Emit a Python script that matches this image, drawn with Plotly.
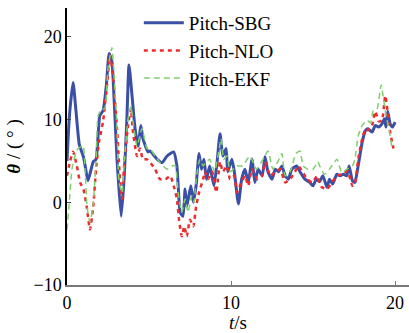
import plotly.graph_objects as go

# Pitch-SBG
t_sbg = [0, 0.15, 0.37, 0.55, 0.75, 1.0, 1.1, 1.28, 1.6, 1.77, 2.0, 2.2, 2.4, 2.57, 2.74, 2.87, 3.05, 3.3, 3.48, 3.65, 3.78, 3.96, 4.15, 4.33, 4.5, 4.63, 4.94,
         5.06, 5.5, 5.8, 6.1, 6.5, 6.7, 6.9, 7.07, 7.2, 7.3, 7.55, 7.7, 7.87, 8.05, 8.2, 8.35, 8.5, 8.7, 8.96, 9.15, 9.33, 9.5, 9.7, 9.8, 10.05, 10.2, 10.45,
         10.65, 10.85, 11.05, 11.28, 11.45, 11.65, 11.9, 12.07, 12.25, 12.5, 12.7, 12.9, 13.1, 13.3, 13.5, 13.7, 14.0, 14.2, 14.5, 14.8, 15.0, 15.2, 15.4,
         15.6, 15.85, 16.0, 16.2, 16.45, 16.65, 16.85, 17.05, 17.2, 17.4, 17.55, 17.75, 18.0, 18.2, 18.35, 18.6, 18.8, 19.0, 19.2, 19.35, 19.45, 19.55, 19.7, 19.85, 20.0]
v_sbg = [5.0, 10.5, 14.5, 11.0, 7.0, 5.5, 4.5, 2.6, 4.9, 5.2, 10.5, 11.1, 14.2, 18.0, 17.0, 12.5, 5.2, -1.7, 2.8, 10.1, 16.6, 13.0, 8.9, 6.8, 9.3, 7.7, 6.1,
         6.2, 5.2, 4.8, 5.6, 6.1, 4.4, -1.2, -1.7, 1.6, -0.5, 2.0, 0.0, 2.0, 5.9, 4.0, 5.2, 2.8, 4.4, 2.0, 4.9, 8.3, 5.6, 6.5, 3.7, 5.2, 3.7, -0.2,
         2.8, 4.0, 2.4, 5.2, 2.4, 4.0, 3.2, 5.5, 3.7, 2.8, 4.0, 3.7, 4.4, 3.2, 2.8, 4.0, 4.4, 3.7, 2.8, 2.4, 2.0, 2.8, 2.5,
         3.2, 1.8, 2.8, 2.2, 3.4, 3.2, 3.4, 3.2, 4.4, 2.6, 2.4, 4.4, 7.3, 8.7, 8.9, 8.5, 9.3, 9.1, 9.5, 10.1, 9.1, 11.0, 9.5, 9.1, 9.7]

# Pitch-NLO
t_nlo = [0, 0.18, 0.37, 0.6, 0.8, 1.0, 1.2, 1.4, 1.6, 1.77, 1.95, 2.2, 2.44, 2.62, 2.8, 3.05, 3.23, 3.35, 3.5, 3.72, 3.9, 4.0, 4.27, 4.45, 4.63, 4.88,
         5.37, 5.67, 6.0, 6.3, 6.5, 6.7, 6.83, 7.0, 7.15, 7.3, 7.5, 7.7, 7.87, 8.05, 8.3, 8.4, 8.6, 8.85, 9.1, 9.33, 9.5, 9.75, 9.94, 10.2, 10.35,
         10.55, 10.85, 11.05, 11.28, 11.6, 11.9, 12.07, 12.4, 12.7, 13.0, 13.3, 13.6, 13.9, 14.1, 14.35, 14.65, 14.95, 15.25, 15.5, 15.85, 16.15,
         16.45, 16.8, 17.1, 17.4, 17.55, 17.75, 18.0, 18.2, 18.35, 18.6, 18.8, 19.0, 19.2, 19.4, 19.5, 19.7, 19.9]
v_nlo = [3.2, 4.9, 6.1, 4.4, 2.4, 1.6, -0.5, -3.3, -0.5, 4.0, 7.3, 9.8, 14.2, 17.8, 15.4, 8.9, 2.8, 0.4, 4.9, 9.3, 11.3, 8.9, 5.6, 6.5, 5.2, 5.2,
         4.0, 2.8, 2.8, 3.2, 2.0, 0.4, -2.1, -4.1, -2.9, -4.1, -2.1, -2.9, -0.5, 1.2, 2.8, 3.7, 2.8, 3.7, 1.2, 4.9, 3.7, 4.4, 2.8, 3.2, 1.2,
         2.0, 3.2, 2.0, 4.0, 2.8, 3.2, 4.9, 3.2, 3.7, 4.0, 2.4, 2.8, 3.7, 4.4, 3.7, 2.8, 2.4, 3.2, 1.9, 1.6, 2.4,
         3.2, 3.4, 3.8, 2.0, 2.2, 5.2, 7.7, 8.9, 8.7, 9.3, 11.0, 9.8, 9.9, 12.9, 11.7, 8.5, 6.5]

# Pitch-EKF
t_ekf = [0, 0.12, 0.3, 0.43, 0.67, 0.98, 1.1, 1.22, 1.4, 1.58, 1.77, 1.9, 2.13, 2.3, 2.5, 2.74, 2.87, 3.05, 3.17, 3.35, 3.5, 3.72, 3.9, 4.08, 4.27, 4.57, 4.88,
         5.06, 5.37, 5.67, 6.1, 6.4, 6.6, 6.77, 7.0, 7.2, 7.38, 7.6, 7.74, 7.9, 8.1, 8.3, 8.5, 8.7, 9.0, 9.2, 9.4, 9.55, 9.75, 9.95, 10.35,
         10.7, 11.15, 11.55, 11.95, 12.25, 12.55, 12.85, 13.1, 13.3, 13.6, 13.96, 14.2, 14.4, 14.7, 15.0, 15.3, 15.4, 15.7, 16.0, 16.46, 16.75, 17.05,
         17.4, 17.55, 17.75, 18.0, 18.3, 18.5, 18.66, 18.9, 19.15, 19.27, 19.45, 19.63, 19.8, 19.9]
v_ekf = [-3.3, -0.5, 4.0, 5.2, 6.5, 6.8, 4.0, -0.5, -2.4, -0.5, 4.9, 10.5, 11.3, 11.3, 16.2, 18.7, 15.4, 8.9, 2.4, 1.2, 5.2, 10.1, 11.6, 8.9, 6.8, 8.9, 6.5,
         6.5, 5.6, 4.8, 4.0, 4.4, 4.4, 1.2, -1.2, 0.4, -1.2, 0.8, 0.0, 3.2, 5.2, 4.4, 4.9, 5.2, 3.7, 5.6, 7.7, 5.2, 5.6, 3.7, 4.4,
         4.4, 5.6, 4.0, 5.2, 6.2, 4.0, 4.9, 5.9, 3.2, 3.7, 5.9, 6.2, 4.4, 4.0, 4.0, 4.9, 4.4, 3.4, 4.0, 5.2, 3.6, 4.0,
         4.4, 5.2, 8.0, 9.3, 9.9, 9.6, 11.0, 11.3, 14.2, 12.9, 10.5, 8.9, 6.8, 6.5]

serif = "Liberation Serif"

fig = go.Figure()
fig.add_trace(go.Scatter(x=t_sbg, y=v_sbg, mode="lines", name="Pitch-SBG",
                         line=dict(color="#3a4fa6", width=3, shape="spline", smoothing=0.5)))
fig.add_trace(go.Scatter(x=t_nlo, y=v_nlo, mode="lines", name="Pitch-NLO",
                         line=dict(color="#ee2b2b", width=2.5, dash="4px,4px", shape="spline", smoothing=0.5)))
fig.add_trace(go.Scatter(x=t_ekf, y=v_ekf, mode="lines", name="Pitch-EKF",
                         line=dict(color="#7fcf6c", width=1.5, dash="6px,4px", shape="spline", smoothing=0.5)))

fig.update_layout(
    width=409, height=333,
    margin=dict(l=67, r=0, t=8, b=48),
    paper_bgcolor="white", plot_bgcolor="white",
    font=dict(family=serif, size=18, color="black"),
    showlegend=True,
    legend=dict(x=0.21, y=1.015, xanchor="left", yanchor="top", bgcolor="rgba(0,0,0,0)",
                font=dict(family=serif, size=19, color="black"), tracegroupgap=0, itemwidth=40),
    xaxis=dict(range=[0, 20.85], tickvals=[0, 10, 20], ticks="inside", ticklen=4,
               showline=True, linecolor="#777777", linewidth=2, tickcolor="#777777",
               showgrid=False, zeroline=False,
               tickfont=dict(family=serif, size=18, color="black"),
               title=dict(text="<i>t</i>/s", font=dict(family=serif, size=19, color="black"), standoff=6)),
    yaxis=dict(range=[-10, 23.5], tickvals=[-10, 0, 10, 20], ticktext=["\u221210", "0", "10", "20"],
               ticks="inside", ticklen=4, showline=True, linecolor="black", linewidth=1.5,
               showgrid=False, zeroline=False,
               tickfont=dict(family=serif, size=18, color="black"),
               title=dict(text="<b><i>θ</i></b> / ( ° )", font=dict(family=serif, size=19, color="black"), standoff=8)),
)

fig.write_html("out.html")
